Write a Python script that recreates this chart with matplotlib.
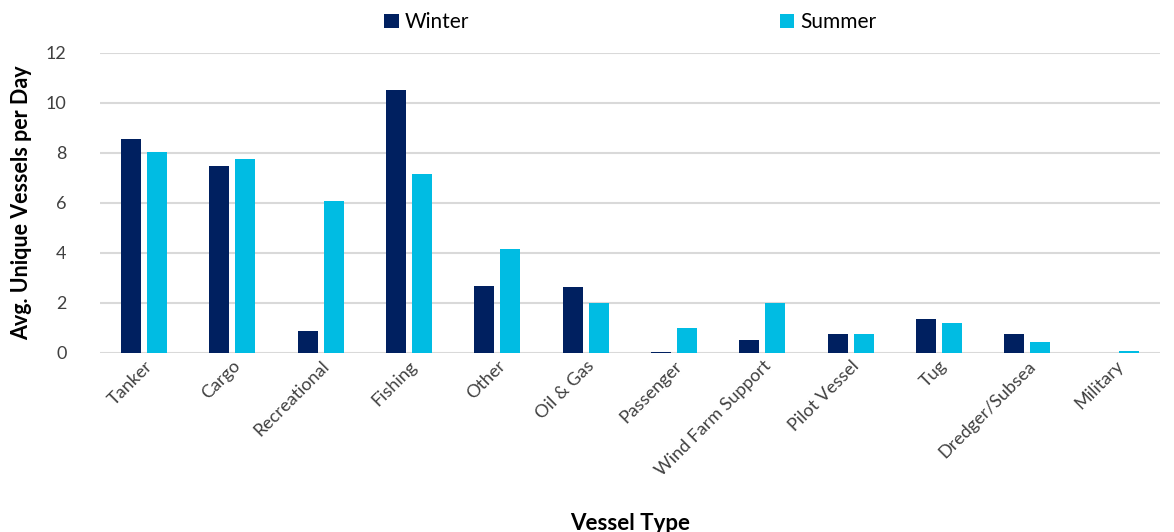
import matplotlib.pyplot as plt
import numpy as np

plt.rcParams["font.family"] = ["Lato", "DejaVu Sans"]

# 船舶类型与冬夏两季的日均船只数
categories = ["Tanker", "Cargo", "Recreational", "Fishing", "Other", "Oil & Gas",
              "Passenger", "Wind Farm Support", "Pilot Vessel", "Tug",
              "Dredger/Subsea", "Military"]
winter = [8.55, 7.48, 0.88, 10.53, 2.68, 2.63, 0.05, 0.51, 0.76, 1.34, 0.76, 0.0]
summer = [8.05, 7.75, 6.09, 7.17, 4.16, 2.0, 0.99, 2.0, 0.76, 1.19, 0.43, 0.08]
yticks = [0, 2, 4, 6, 8, 10, 12]

c_winter = "#002060"
c_summer = "#00BCE3"

fig = plt.figure(figsize=(11.74, 5.32), dpi=100)
ax = fig.add_axes([0.085, 0.3365, 0.903, 0.564])

x = np.arange(len(categories))
w = 0.226
ax.bar(x - 0.147, winter, width=w, color=c_winter, label="Winter", zorder=3)
ax.bar(x + 0.147, summer, width=w, color=c_summer, label="Summer", zorder=3)

ax.set_xlim(-0.5, len(categories) - 0.5)
ax.set_ylim(0, 12)
ax.set_yticks(yticks)
ax.yaxis.grid(True, color="#d9d9d9", linewidth=1.5, zorder=0)
ax.set_axisbelow(True)
for s in ax.spines.values():
    s.set_visible(False)
ax.tick_params(axis="both", length=0, labelsize=13, colors="#404040")
ax.tick_params(axis="y", pad=24)

ax.set_xticks(x)
ax.set_xticklabels(categories, rotation=45, ha="right", rotation_mode="anchor")

ax.set_ylabel("Avg. Unique Vessels per Day", fontsize=15.5, fontweight="bold", labelpad=10)
ax.set_xlabel("Vessel Type", fontsize=16, fontweight="bold", labelpad=24)

# 图例放在顶部，间距拉开
fig.legend(loc="upper center", bbox_to_anchor=(0.537, 1.012), ncol=2, frameon=False,
           fontsize=15, handlelength=0.7, handleheight=0.7, handletextpad=0.3,
           columnspacing=14.9)

fig.savefig("out.png", dpi=100)
